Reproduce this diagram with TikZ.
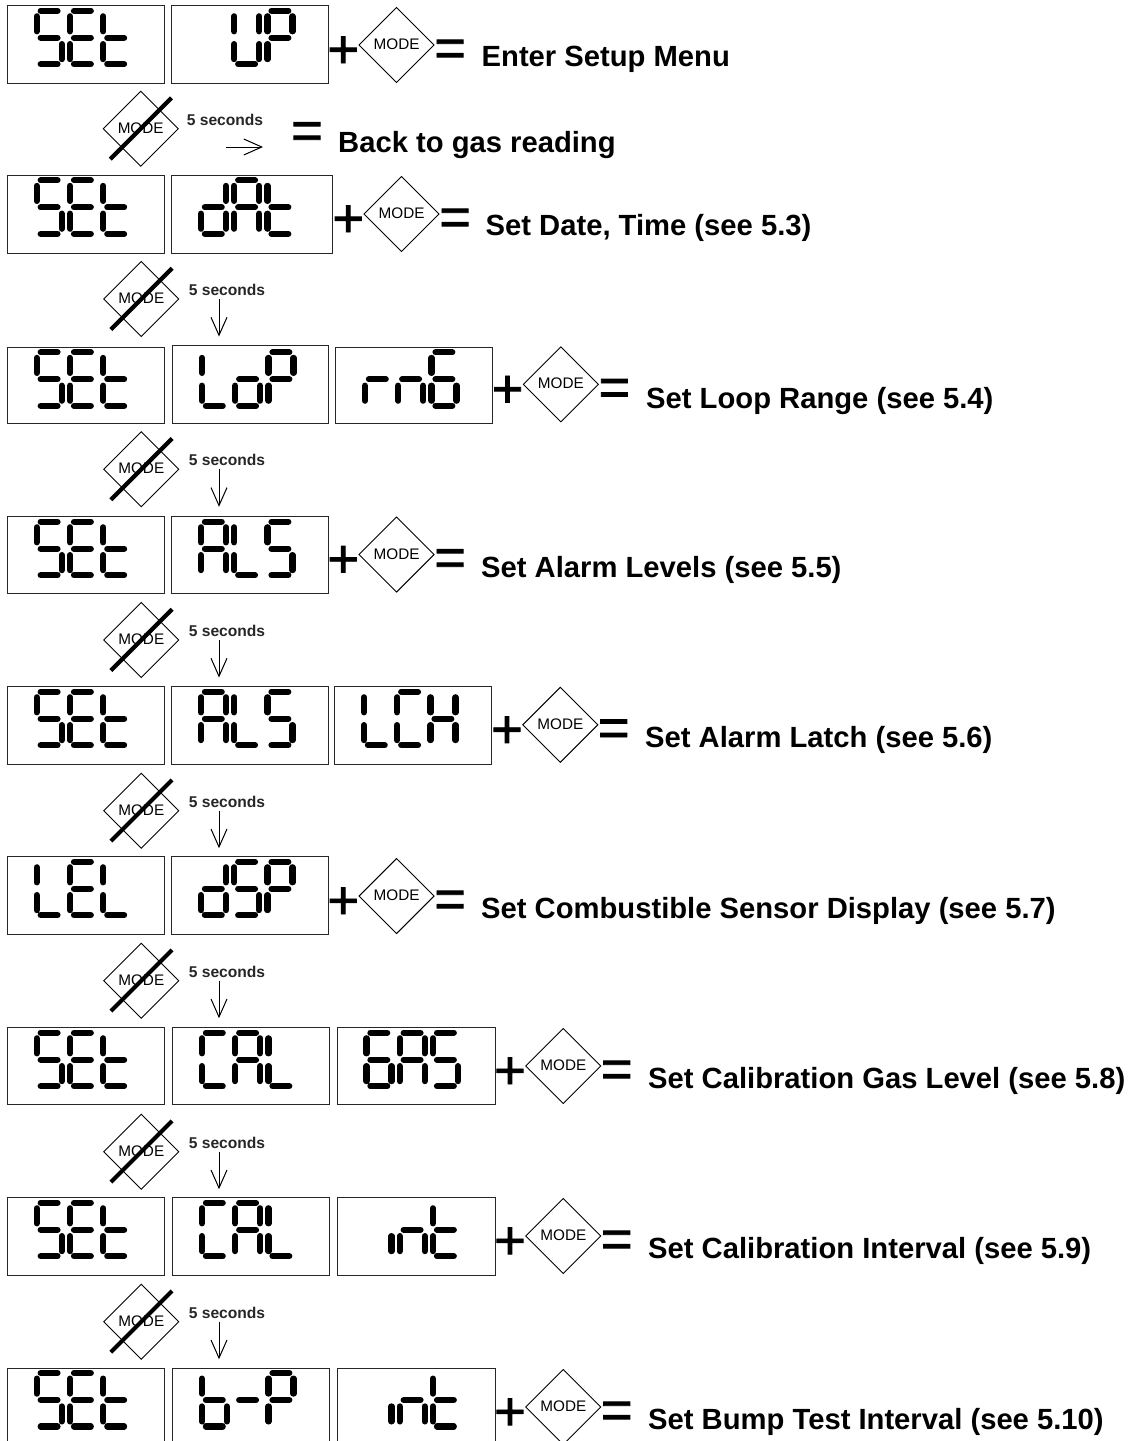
\documentclass[tikz,border=0pt]{standalone}
\usepackage{fontspec}
\setmainfont{Liberation Sans}
\newfontfamily\signfont[FakeBold=1.6]{Liberation Sans}
\usetikzlibrary{arrows.meta,shapes.geometric}
\tikzset{
	panel/.style={draw=black!85,line width=0.9pt,anchor=north west,inner sep=0pt,outer sep=0pt,minimum width=157pt,minimum height=77.3pt},
	lcdseg/.style={draw=black,line width=6.2pt,line cap=round},
	modekey/.style={diamond,draw=black,line width=0.9pt,inner sep=0pt,outer sep=0pt,minimum size=75pt,font=\fontsize{15.3}{15.3}\selectfont,text=black},
	bigsign/.style={anchor=base,inner sep=0pt,font=\fontsize{54}{54}\signfont},
	menutext/.style={anchor=base west,inner sep=0pt,font=\fontsize{29.2}{29.2}\selectfont\bfseries},
	secstext/.style={inner sep=0pt,font=\fontsize{15.6}{15.6}\selectfont\bfseries,text=black!85},
	waitarrow/.style={-{Straight Barb[length=18pt,width=16pt]},line width=1pt},
	seg a/.style={insert path={(4,5)--(20.8,5)}},
	seg b/.style={insert path={(25,10.6)--(25,25.6)}},
	seg c/.style={insert path={(25,38.4)--(25,53.4)}},
	seg d/.style={insert path={(4,58.5)--(20.8,58.5)}},
	seg e/.style={insert path={(0,38.4)--(0,53.4)}},
	seg f/.style={insert path={(0,10.6)--(0,25.6)}},
	seg g/.style={insert path={(4,32)--(20.8,32)}},
	glyph 0/.style={},
	glyph S/.style={seg a,seg f,seg g,seg c,seg d},
	glyph E/.style={seg a,seg f,seg g,seg e,seg d},
	glyph t/.style={seg f,seg g,seg e,seg d},
	glyph U/.style={seg f,seg b,seg e,seg c,seg d},
	glyph P/.style={seg a,seg f,seg b,seg g,seg e},
	glyph d/.style={seg b,seg g,seg c,seg d,seg e},
	glyph A/.style={seg a,seg f,seg b,seg g,seg e,seg c},
	glyph L/.style={seg f,seg e,seg d},
	glyph o/.style={seg g,seg e,seg c,seg d},
	glyph r/.style={seg g,seg e},
	glyph n/.style={seg g,seg e,seg c},
	glyph 6/.style={seg a,seg f,seg g,seg e,seg c,seg d},
	glyph C/.style={seg a,seg f,seg e,seg d},
	glyph H/.style={seg f,seg b,seg g,seg e,seg c},
	glyph b/.style={seg f,seg e,seg g,seg c,seg d},
	glyph -/.style={seg g},
	glyph i/.style={seg c}
}
\newcommand{\lcdpanel}[5][]{
	\node[panel,#1] at (#2,#3) (#4) {};
	\foreach \g [count=\n from 0] in {#5}
		\draw[lcdseg,shift={(#2+29.4+\n*33.3,#3)},glyph \g];
}
\newcommand{\pressmode}[3]{
	\node[bigsign] at (#1,#2+18.8) (#3plus) {+};
	\node[modekey] at (#1+53.3,#2-4) (#3key) {\raisebox{1.6pt}{MODE}};
	\node[bigsign] at (#1+106.8,#2+17.3) (#3eq) {=};
}
\newcommand{\crossmode}[3]{
	\node[modekey] at (#1,#2) (#3) {\raisebox{1.6pt}{MODE}};
	\draw[line width=4.2pt,shorten <=-16.5pt,shorten >=-17pt] (#3.south west) -- (#3.north east);
}
\newcommand{\waitdown}[2]{
	\crossmode{141.3}{#1}{#2key}
	\node[secstext] at (227,#1-9) (#2secs) {5 seconds};
	\coordinate (#2top) at (219,#1);
	\coordinate (#2tip) at (219,#1+37.5);
	\draw[waitarrow] (#2top) -- (#2tip);
}

\begin{document}
\begin{tikzpicture}[x=1pt,y=-1pt]
	\clip (0,0) rectangle (1130,1441);

	\lcdpanel{7.3}{5.7}{setA}{S,E,t}
	\lcdpanel{171.5}{5.7}{upA}{0,U,P}
	\pressmode{343.3}{49}{enter}
	\node[menutext] at (481.5,66.7) (enterText) {Enter Setup Menu};

	\crossmode{140.7}{128.7}{backkey}
	\node[secstext] at (225,120) (backsecs) {5 seconds};
	\coordinate (backtail) at (226,147);
	\coordinate (backtip) at (263,147);
	\draw[waitarrow] (backtail) -- (backtip);
	\node[bigsign] at (307,148.8) (backeq) {=};
	\node[menutext] at (338,152.3) (backText) {Back to gas reading};

	\lcdpanel[minimum height=78pt]{7.3}{175.3}{setB}{S,E,t}
	\lcdpanel[minimum height=78pt,minimum width=161pt]{171.5}{175.3}{datB}{d,A,t}
	\pressmode{348.3}{218}{date}
	\node[menutext] at (485.5,235.7) (dateText) {Set Date, Time (see 5.3)};
	\waitdown{299}{w1}

	\lcdpanel[minimum height=76pt]{7.3}{347.3}{setC}{S,E,t}
	\lcdpanel[minimum height=77.8pt,yshift=1.8pt,minimum width=156pt]{172.5}{347.3}{lopC}{L,o,P}
	\lcdpanel[minimum height=76pt]{335.5}{347.3}{rngC}{r,n,6}
	\pressmode{507.6}{388.3}{loop}
	\node[menutext] at (646,408.3) (loopText) {Set Loop Range (see 5.4)};
	\waitdown{469.3}{w2}

	\lcdpanel[minimum height=77pt]{7.3}{516.7}{setD}{S,E,t}
	\lcdpanel[minimum height=77pt]{171.5}{516.7}{alsD}{A,L,S}
	\pressmode{343.3}{558.5}{levels}
	\node[menutext] at (481,577.3) (levelsText) {Set Alarm Levels (see 5.5)};
	\waitdown{640}{w3}

	\lcdpanel[minimum height=77.6pt]{7.3}{686.7}{setE}{S,E,t}
	\lcdpanel[minimum height=77.6pt]{171.5}{686.7}{alsE}{A,L,S}
	\lcdpanel[minimum height=77.6pt]{334.5}{686.7}{lchE}{L,C,H}
	\pressmode{507}{728.8}{latch}
	\node[menutext] at (645,747.7) (latchText) {Set Alarm Latch (see 5.6)};
	\waitdown{810.7}{w4}

	\lcdpanel[minimum height=77.6pt]{7.3}{856.7}{lelF}{L,E,L}
	\lcdpanel[minimum height=77.6pt]{171.5}{856.7}{dspF}{d,S,P}
	\pressmode{343.3}{900}{combust}
	\node[menutext] at (481,918.5) (combustText) {Set Combustible Sensor Display (see 5.7)};
	\waitdown{980.7}{w5}

	\lcdpanel[minimum height=76.6pt]{7.3}{1027.7}{setG}{S,E,t}
	\lcdpanel[minimum height=76.6pt]{172.5}{1027.7}{calG}{C,A,L}
	\lcdpanel[minimum height=76.6pt,minimum width=158.5pt]{337}{1027.7}{gasG}{6,A,S}
	\pressmode{510}{1070}{gas}
	\node[menutext] at (648,1088.3) (gasText) {Set Calibration Gas Level (see 5.8)};
	\waitdown{1151.7}{w6}

	\lcdpanel{7.3}{1197.7}{setH}{S,E,t}
	\lcdpanel{172.5}{1197.7}{calH}{C,A,L}
	\lcdpanel[minimum width=158.5pt]{337}{1197.7}{intH}{i,n,t}
	\pressmode{510}{1240}{interval}
	\node[menutext] at (648,1258.3) (intervalText) {Set Calibration Interval (see 5.9)};
	\waitdown{1321.7}{w7}

	\lcdpanel{7.3}{1368}{setJ}{S,E,t}
	\lcdpanel{172.5}{1368}{bpJ}{b,-,P}
	\lcdpanel[minimum width=158.5pt]{337}{1368}{intJ}{i,n,t}
	\pressmode{510}{1411}{bump}
	\node[menutext] at (648,1429.3) (bumpText) {Set Bump Test Interval (see 5.10)};
\end{tikzpicture}
\end{document}
